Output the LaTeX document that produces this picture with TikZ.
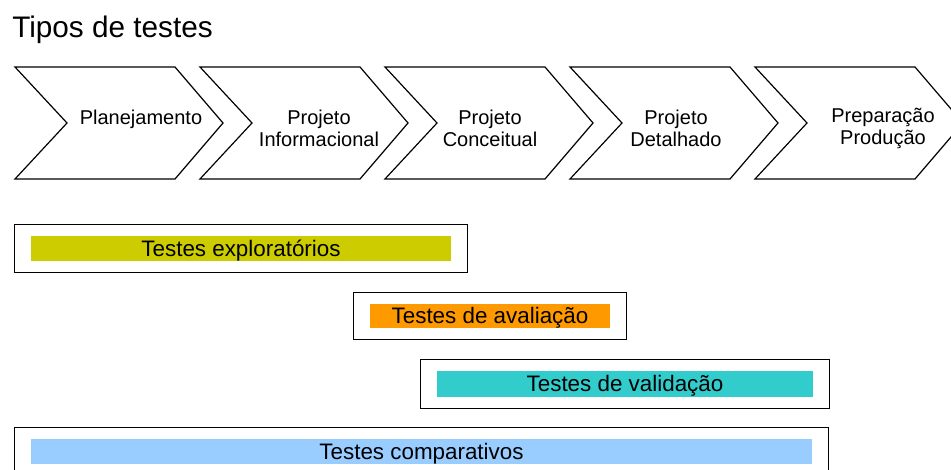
\documentclass[tikz,border=0pt]{standalone}
\usepackage{fontspec}
\setmainfont{Liberation Sans}
\usetikzlibrary{fit,positioning}
\tikzset{>=latex}
\definecolor{amarelo}{HTML}{CCCC00}
\definecolor{laranja}{HTML}{FF9900}
\definecolor{turquesa}{HTML}{33CCCC}
\definecolor{azulclaro}{HTML}{99CCFF}
\tikzset{
  fase/.style={align=center,font=\fontsize{15}{16.5}\selectfont},
  faixa/.style={inner sep=0pt,text height=12pt,text depth=0pt,font=\fontsize{16.8}{19}\selectfont},
  moldura/.style={draw,line width=1.1pt,inner xsep=12pt,inner ysep=8.25pt}
}

\begin{document}
\begin{tikzpicture}[x=0.75pt,y=-0.75pt]
\clip (0,0) rectangle (951,470);
\node[anchor=base west,inner sep=0pt,font=\fontsize{22.3}{26}\selectfont] (titulo) at (12,38) {Tipos de testes};
% fases do projeto
\foreach \x in {15,200,385,570,755}
  \draw[line width=0.9pt] (\x,67) -- ++(160,0) -- ++(48,56) -- ++(-48,56) -- ++(-160,0) -- ++(52,-56) -- cycle;
\node[fase] (plan) at (141,119) {Planejamento};
\node[fase] (pinf) at (319,128) {Projeto\\Informacional};
\node[fase] (pcon) at (490,128) {Projeto\\Conceitual};
\node[fase] (pdet) at (676,128) {Projeto\\Detalhado};
\node[fase] (prep) at (883,128) {Preparação\\Produção};
% tipos de testes
\node[faixa,fill=amarelo,minimum width=420*0.75pt,minimum height=25*0.75pt] (expl) at (241,248.5) {Testes exploratórios};
\node[moldura,fit=(expl)] (mexpl) {};
\node[faixa,fill=laranja,minimum width=240*0.75pt,minimum height=24*0.75pt] (aval) at (490,316) {Testes de avaliação};
\node[moldura,fit=(aval)] (maval) {};
\node[faixa,fill=turquesa,minimum width=376*0.75pt,minimum height=26*0.75pt] (vali) at (625,384) {Testes de validação};
\node[moldura,fit=(vali)] (mvali) {};
\node[faixa,fill=azulclaro,minimum width=781*0.75pt,minimum height=25*0.75pt] (comp) at (421.5,451.5) {Testes comparativos};
\node[moldura,fit=(comp)] (mcomp) {};
\end{tikzpicture}
\end{document}
